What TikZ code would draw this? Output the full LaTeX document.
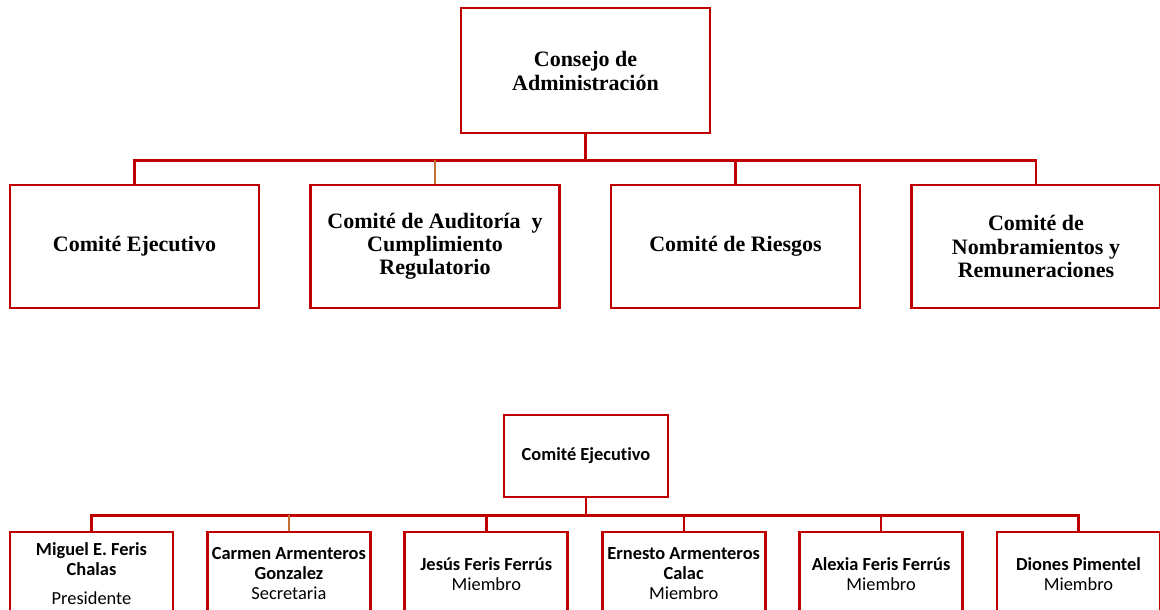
\documentclass[tikz,border=0pt]{standalone}
\usepackage{fontspec}
\setmainfont{Liberation Serif}
\newfontfamily\calibrifont[Ligatures=NoCommon]{Carlito}
\usetikzlibrary{positioning}
\definecolor{boxred}{RGB}{192,0,0}
\definecolor{linkorange}{RGB}{197,110,50}
\tikzset{
    board box/.style={
        draw=boxred,
        line width=2pt,
        fill=white,
        minimum width=186.75pt,
        minimum height=93.75pt,
        align=center,
        font=\bfseries\fontsize{16.5}{18}\selectfont
    },
    committee box/.style={
        board box,
        minimum height=92.25pt,
        font=\bfseries\fontsize{16.5}{17.3}\selectfont
    },
    exec box/.style={
        board box,
        minimum width=123pt,
        minimum height=61.5pt,
        font=\calibrifont\bfseries\fontsize{13.8}{15}\selectfont
    },
    member box/.style={
        exec box,
        minimum width=122.25pt,
        minimum height=63pt,
        font=\calibrifont\fontsize{13.8}{15}\selectfont
    },
    link/.style={
        draw=boxred,
        line width=1.8pt
    },
    orange link/.style={
        link,
        draw=linkorange
    }
}
\begin{document}
\begin{tikzpicture}[x=0.75pt, y=-0.75pt]
                \useasboundingbox (0,0) rectangle (1160,610);
                \clip (0,0) rectangle (1160,610);
                \node[board box] (board) at (585.5,70.5) {Consejo de\\Administración};
                \node[committee box] (c1) at (134.5,246.5) {Comité Ejecutivo};
                \node[committee box] (c2) at (435,246.5) {Comité de Auditoría~ y\\Cumplimiento\\Regulatorio};
                \node[committee box] (c3) at (735.5,246.5) {Comité de Riesgos};
                \node[committee box] (c4) at (1036,246.5) {Comité de\\Nombramientos y\\Remuneraciones};
                \path (board.south) ++(0,26) coordinate (bus);
                \draw[link] (board.south) -- (bus);
                \draw[link] (c1.north) |- (bus -| c4.north) -- (c4.north);
                \draw[orange link] (c2.north) -- (c2.north |- bus);
                \draw[link] (c3.north) -- (c3.north |- bus);
                \node[exec box] (exec) at (586,456) {Comité Ejecutivo};
                \node[member box] (m1) at (91.5,574) {\textbf{Miguel E. Feris}\\\textbf{Chalas}\\[6.75pt]Presidente};
                \node[member box] (m2) at (288.9,574) {\textbf{Carmen Armenteros}\\\textbf{Gonzalez}\\Secretaria};
                \node[member box] (m3) at (486.3,574) {\textbf{Jesús Feris Ferrús}\\Miembro};
                \node[member box] (m4) at (683.7,574) {\textbf{Ernesto Armenteros}\\\textbf{Calac}\\Miembro};
                \node[member box] (m5) at (881.1,574) {\textbf{Alexia Feris Ferrús}\\Miembro};
                \node[member box] (m6) at (1078.5,574) {\textbf{Diones Pimentel}\\Miembro};
                \path (exec.south) ++(0,17) coordinate (execbus);
                \draw[link] (exec.south) -- (execbus);
                \draw[link] (m1.north) |- (execbus -| m6.north) -- (m6.north);
                \draw[orange link] (m2.north) -- (m2.north |- execbus);
                \foreach \m in {m3,m4,m5}
                    \draw[link] (\m.north) -- (\m.north |- execbus);
            \end{tikzpicture}
\end{document}
